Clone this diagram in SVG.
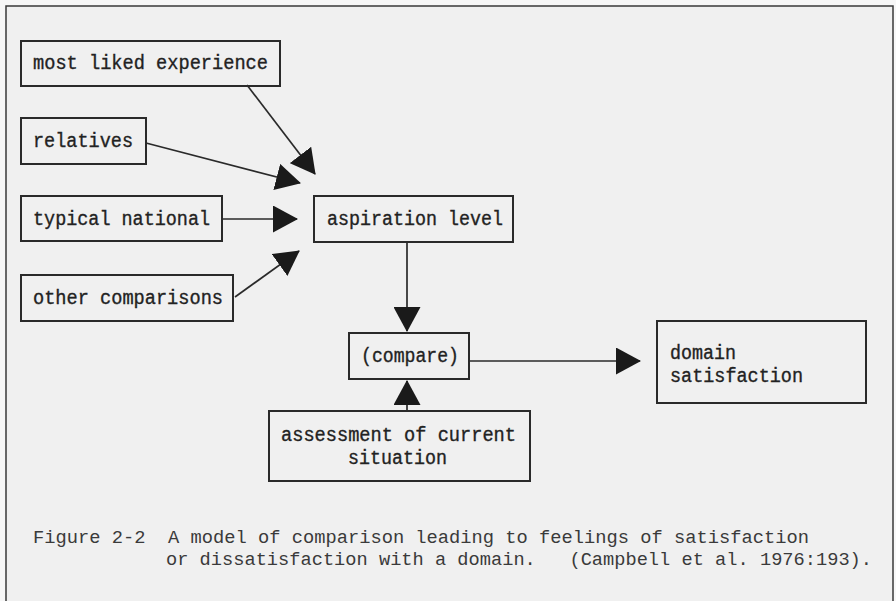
<svg xmlns="http://www.w3.org/2000/svg" width="896" height="601" viewBox="0 0 896 601">
  <style>
    .box { fill: none; stroke: #2a2a2a; stroke-width: 2; }
    .lbl { font-family: "Liberation Mono", "DejaVu Sans Mono", monospace; font-size: 20px; fill: #222; stroke: #222; stroke-width: 0.35; }
    .cap { font-family: "Liberation Mono", "DejaVu Sans Mono", monospace; font-size: 18px; fill: #3a3a3a; white-space: pre; }
    .conn { stroke: #2a2a2a; stroke-width: 1.7; fill: none; marker-end: url(#ah); }
  </style>
  <defs>
    <marker id="ah" viewBox="0 0 25 27" refX="24" refY="13.5" markerWidth="25" markerHeight="27" markerUnits="userSpaceOnUse" orient="auto">
      <path d="M0,0 L25,13.5 L0,27 Z" fill="#1a1a1a"/>
    </marker>
  </defs>
  <rect x="0" y="0" width="896" height="601" fill="#f7f7f7"/>
  <rect id="frame" x="6" y="6" width="887" height="610" fill="#f0f0f0" stroke="#3a3a3a" stroke-width="1.5"/>

  <g id="connectors">
    <line class="conn" x1="247" y1="85" x2="315" y2="174"/>
    <line class="conn" x1="146" y1="143" x2="300" y2="183"/>
    <line class="conn" x1="222" y1="219" x2="297" y2="219"/>
    <line class="conn" x1="235" y1="297" x2="299" y2="251"/>
    <line class="conn" x1="407" y1="242" x2="407" y2="331"/>
    <line class="conn" x1="469" y1="361" x2="640" y2="361"/>
    <line class="conn" x1="407" y1="411" x2="407" y2="381"/>
  </g>

  <g id="most-liked">
    <rect class="box" x="21" y="41" width="259" height="45"/>
    <text class="lbl" x="33" y="69" textLength="235" lengthAdjust="spacingAndGlyphs">most liked experience</text>
  </g>
  <g id="relatives">
    <rect class="box" x="21" y="118" width="125" height="46"/>
    <text class="lbl" x="33" y="147" textLength="100" lengthAdjust="spacingAndGlyphs">relatives</text>
  </g>
  <g id="typical-national">
    <rect class="box" x="21" y="196" width="201" height="45"/>
    <text class="lbl" x="33" y="225" textLength="177" lengthAdjust="spacingAndGlyphs">typical national</text>
  </g>
  <g id="other-comparisons">
    <rect class="box" x="21" y="275" width="212" height="46"/>
    <text class="lbl" x="33" y="304" textLength="190" lengthAdjust="spacingAndGlyphs">other comparisons</text>
  </g>
  <g id="aspiration-level">
    <rect class="box" x="314" y="196" width="199" height="46"/>
    <text class="lbl" x="327" y="225" textLength="176" lengthAdjust="spacingAndGlyphs">aspiration level</text>
  </g>
  <g id="compare">
    <rect class="box" x="349" y="333" width="120" height="46"/>
    <text class="lbl" x="361" y="362" textLength="98" lengthAdjust="spacingAndGlyphs">(compare)</text>
  </g>
  <g id="assessment">
    <rect class="box" x="269" y="411" width="261" height="70"/>
    <text class="lbl" x="281" y="441" textLength="235" lengthAdjust="spacingAndGlyphs">assessment of current</text>
    <text class="lbl" x="348" y="464" textLength="99" lengthAdjust="spacingAndGlyphs">situation</text>
  </g>
  <g id="domain-satisfaction">
    <rect class="box" x="657" y="321" width="209" height="82"/>
    <text class="lbl" x="670" y="359" textLength="66" lengthAdjust="spacingAndGlyphs">domain</text>
    <text class="lbl" x="670" y="382" textLength="133" lengthAdjust="spacingAndGlyphs">satisfaction</text>
  </g>

  <g id="caption">
    <text class="cap" xml:space="preserve" x="33" y="543" textLength="776" lengthAdjust="spacingAndGlyphs">Figure 2-2  A model of comparison leading to feelings of satisfaction</text>
    <text class="cap" xml:space="preserve" x="166" y="565" textLength="706" lengthAdjust="spacingAndGlyphs">or dissatisfaction with a domain.   (Campbell et al. 1976:193).</text>
  </g>
</svg>
